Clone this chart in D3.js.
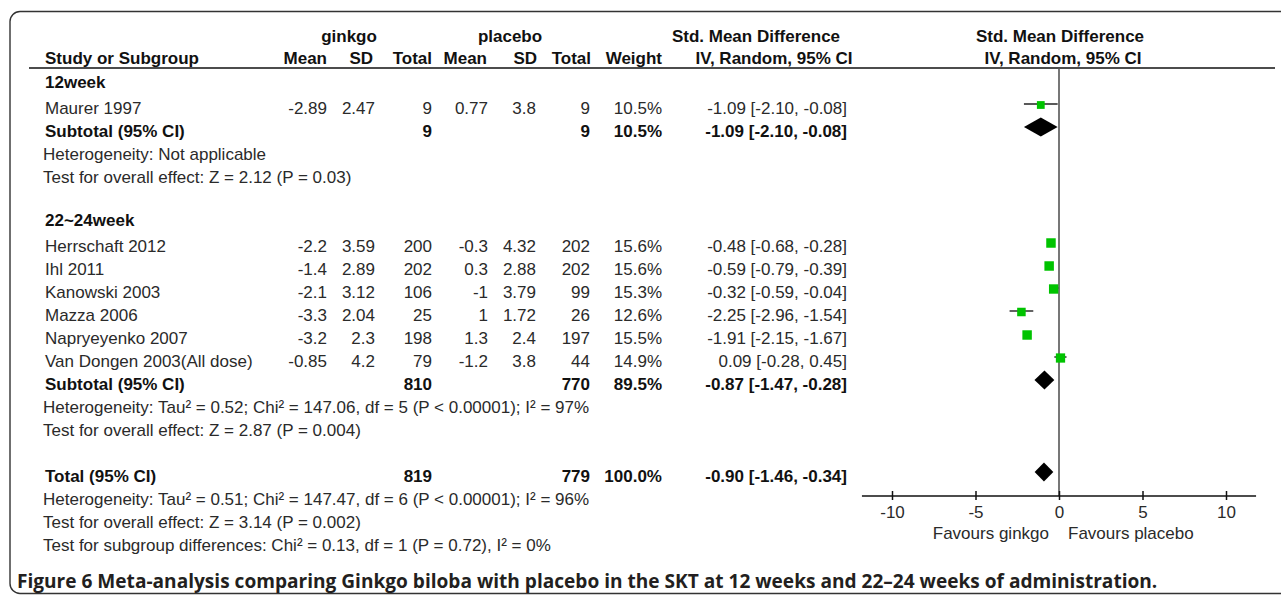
<!DOCTYPE html>
<html>
<head>
<meta charset="utf-8">
<script src="https://cdn.jsdelivr.net/npm/d3@7"></script>
<style>
  body { margin: 0; background: #fff; }
  svg { display: block; font-family: "Liberation Sans", Arial, sans-serif; }
</style>
</head>
<body>
<div id="chart"></div>
<script>
// study level data
const studyNames = ["Maurer 1997", "Herrschaft 2012", "Ihl 2011", "Kanowski 2003", "Mazza 2006", "Napryeyenko 2007", "Van Dongen 2003(All dose)"];
const studyGroup = [0, 1, 1, 1, 1, 1, 1];
const ginkgoMean = [-2.89, -2.2, -1.4, -2.1, -3.3, -3.2, -0.85];
const ginkgoSD = [2.47, 3.59, 2.89, 3.12, 2.04, 2.3, 4.2];
const ginkgoN = [9, 200, 202, 106, 25, 198, 79];
const placeboMean = [0.77, -0.3, 0.3, -1, 1, 1.3, -1.2];
const placeboSD = [3.8, 4.32, 2.88, 3.79, 1.72, 2.4, 3.8];
const placeboN = [9, 202, 202, 99, 26, 197, 44];
const weight = [10.5, 15.6, 15.6, 15.3, 12.6, 15.5, 14.9];
const smd = [-1.09, -0.48, -0.59, -0.32, -2.25, -1.91, 0.09];
const ciLow = [-2.10, -0.68, -0.79, -0.59, -2.96, -2.15, -0.28];
const ciHigh = [-0.08, -0.28, -0.39, -0.04, -1.54, -1.67, 0.45];

// subgroups
const subgroupNames = ["12week", "22~24week"];
const subgroupGinkgoN = [9, 810];
const subgroupPlaceboN = [9, 770];
const subgroupWeight = [10.5, 89.5];
const subgroupSmd = [-1.09, -0.87];
const subgroupLow = [-2.10, -1.47];
const subgroupHigh = [-0.08, -0.28];
const subgroupHet = ["Heterogeneity: Not applicable", "Heterogeneity: Tau² = 0.52; Chi² = 147.06, df = 5 (P < 0.00001); I² = 97%"];
const subgroupTest = ["Test for overall effect: Z = 2.12 (P = 0.03)", "Test for overall effect: Z = 2.87 (P = 0.004)"];

// overall
const totalGinkgoN = 819;
const totalPlaceboN = 779;
const totalWeight = 100.0;
const totalSmd = -0.90;
const totalLow = -1.46;
const totalHigh = -0.34;
const totalNotes = [
    "Heterogeneity: Tau² = 0.51; Chi² = 147.47, df = 6 (P < 0.00001); I² = 96%",
    "Test for overall effect: Z = 3.14 (P = 0.002)",
    "Test for subgroup differences: Chi² = 0.13, df = 1 (P = 0.72), I² = 0%"
];

const xTicks = [-10, -5, 0, 5, 10];
const favourLabels = ["Favours ginkgo", "Favours placebo"];
const caption = "Figure 6 Meta-analysis comparing Ginkgo biloba with placebo in the SKT at 12 weeks and 22–24 weeks of administration.";

// plain hyphen for negatives, like RevMan prints them
const locale = d3.formatLocale({ decimal: '.', thousands: ',', grouping: [3], currency: ['', ''], minus: '-' });

class ForestPlot {

    constructor(opts) {
        this.element = opts.element;
        this.width = 1281;
        this.height = 599;
        this.cols = { gMean: 327, gSD: 375, gN: 432, pMean: 488, pSD: 536, pN: 590, weight: 662, ci: 847 };
        this.draw();
    }

    draw() {
        this.element.innerHTML = '';
        this.svg = d3.select(this.element).append('svg')
            .attr('width', this.width)
            .attr('height', this.height);

        this.createScales();
        this.buildRows();
        this.addFrame();
        this.addHeader();
        this.addTable();
        this.addPlot();
        this.addAxis();
        this.addCaption();
    }

    createScales() {
        this.xScale = d3.scaleLinear().domain([-10, 10]).range([892, 1226]);
        // one step per table line
        this.yScale = d3.scaleLinear().domain([0, 20]).range([82, 542]);
        this.boxScale = d3.scaleSqrt().domain([0, 100]).range([0, 24]);
    }

    buildRows() {
        const rows = [];
        let line = 0;
        subgroupNames.forEach((name, g) => {
            rows.push({ type: 'heading', line: line++, label: name });
            studyNames.forEach((s, i) => {
                if (studyGroup[i] !== g) return;
                rows.push({
                    type: 'study', line: line++, label: s,
                    cells: [ginkgoMean[i], ginkgoSD[i], ginkgoN[i], placeboMean[i], placeboSD[i], placeboN[i]],
                    weight: weight[i], est: smd[i], lo: ciLow[i], hi: ciHigh[i]
                });
            });
            rows.push({
                type: 'subtotal', line: line++, label: 'Subtotal (95% CI)',
                gN: subgroupGinkgoN[g], pN: subgroupPlaceboN[g],
                weight: subgroupWeight[g], est: subgroupSmd[g], lo: subgroupLow[g], hi: subgroupHigh[g]
            });
            rows.push({ type: 'note', line: line++, label: subgroupHet[g] });
            rows.push({ type: 'note', line: line++, label: subgroupTest[g] });
            line++;
        });
        rows.push({
            type: 'subtotal', line: line++, label: 'Total (95% CI)',
            gN: totalGinkgoN, pN: totalPlaceboN,
            weight: totalWeight, est: totalSmd, lo: totalLow, hi: totalHigh
        });
        totalNotes.forEach(n => rows.push({ type: 'note', line: line++, label: n }));
        this.rows = rows;
    }

    addFrame() {
        this.svg.append('rect')
            .attr('x', 10).attr('y', 11.5)
            .attr('width', 1300).attr('height', 582)
            .attr('rx', 10)
            .attr('fill', 'none')
            .attr('stroke', '#333')
            .attr('stroke-width', 1.4);
    }

    addHeader() {
        const h = this.svg.append('g')
            .attr('font-weight', 'bold')
            .attr('font-size', 17)
            .attr('fill', '#111');

        const top = [
            { t: 'ginkgo', x: 349, a: 'middle' },
            { t: 'placebo', x: 510, a: 'middle' },
            { t: 'Std. Mean Difference', x: 756, a: 'middle' },
            { t: 'Std. Mean Difference', x: 1060, a: 'middle' }
        ];
        const sub = [
            { t: 'Study or Subgroup', x: 45, a: 'start' },
            { t: 'Mean', x: 327, a: 'end' },
            { t: 'SD', x: 373, a: 'end' },
            { t: 'Total', x: 432, a: 'end' },
            { t: 'Mean', x: 487, a: 'end' },
            { t: 'SD', x: 537, a: 'end' },
            { t: 'Total', x: 591, a: 'end' },
            { t: 'Weight', x: 662, a: 'end' },
            { t: 'IV, Random, 95% CI', x: 774, a: 'middle' },
            { t: 'IV, Random, 95% CI', x: 1063, a: 'middle' }
        ];

        h.selectAll('.top').data(top).enter().append('text')
            .attr('x', d => d.x).attr('y', 42)
            .attr('text-anchor', d => d.a)
            .text(d => d.t);

        h.selectAll('.sub').data(sub).enter().append('text')
            .attr('x', d => d.x).attr('y', 64)
            .attr('text-anchor', d => d.a)
            .text(d => d.t);

        this.svg.append('line')
            .attr('x1', 29).attr('x2', 1275)
            .attr('y1', 68).attr('y2', 68)
            .attr('stroke', '#111')
            .attr('stroke-width', 1.5);
    }

    addTable() {
        const fmt2 = locale.format('.2f');
        const ciText = d => `${fmt2(d.est)} [${fmt2(d.lo)}, ${fmt2(d.hi)}]`;
        const pct = d => locale.format('.1f')(d) + '%';
        const c = this.cols;
        const colX = [c.gMean, c.gSD, c.gN, c.pMean, c.pSD, c.pN];

        const t = this.svg.append('g').attr('font-size', 17);

        this.rows.forEach(r => {
            const y = this.yScale(r.line);
            if (r.type === 'heading') {
                t.append('text').attr('x', 45).attr('y', y + 6)
                    .attr('font-weight', 'bold').attr('fill', '#111').text(r.label);
            } else if (r.type === 'note') {
                t.append('text').attr('x', 43).attr('y', y + 9)
                    .attr('fill', '#2a2a2a').text(r.label);
            } else if (r.type === 'study') {
                const g = t.append('g').attr('fill', '#2a2a2a');
                g.append('text').attr('x', 45).attr('y', y + 9).text(r.label);
                r.cells.forEach((v, k) => {
                    g.append('text').attr('x', colX[k]).attr('y', y + 9)
                        .attr('text-anchor', 'end').text(String(v));
                });
                g.append('text').attr('x', c.weight).attr('y', y + 9)
                    .attr('text-anchor', 'end').text(pct(r.weight));
                g.append('text').attr('x', c.ci).attr('y', y + 9)
                    .attr('text-anchor', 'end').text(ciText(r));
            } else {
                const g = t.append('g').attr('fill', '#111').attr('font-weight', 'bold');
                g.append('text').attr('x', 45).attr('y', y + 9).text(r.label);
                g.append('text').attr('x', c.gN).attr('y', y + 9).attr('text-anchor', 'end').text(r.gN);
                g.append('text').attr('x', c.pN).attr('y', y + 9).attr('text-anchor', 'end').text(r.pN);
                g.append('text').attr('x', c.weight).attr('y', y + 9).attr('text-anchor', 'end').text(pct(r.weight));
                g.append('text').attr('x', c.ci).attr('y', y + 9).attr('text-anchor', 'end').text(ciText(r));
            }
        });
    }

    addPlot() {
        const x = this.xScale, y = this.yScale;
        this.plot = this.svg.append('g');

        // line of no effect
        this.plot.append('line')
            .attr('x1', x(0)).attr('x2', x(0))
            .attr('y1', 68).attr('y2', this.axisY())
            .attr('stroke', '#555')
            .attr('stroke-width', 1.6);

        const studies = this.rows.filter(r => r.type === 'study');
        const pooled = this.rows.filter(r => r.type === 'subtotal');

        this.plot.selectAll('.ci').data(studies).enter().append('line')
            .attr('x1', d => x(d.lo)).attr('x2', d => x(d.hi))
            .attr('y1', d => y(d.line) - 1).attr('y2', d => y(d.line) - 1)
            .attr('stroke', '#222')
            .attr('stroke-width', 1.4);

        this.plot.selectAll('.box').data(studies).enter().append('rect')
            .attr('x', d => x(d.est) - this.boxScale(d.weight) / 2)
            .attr('y', d => y(d.line) - this.boxScale(d.weight) / 2)
            .attr('width', d => this.boxScale(d.weight))
            .attr('height', d => this.boxScale(d.weight))
            .attr('fill', '#00c300');

        const half = 9.5;
        this.plot.selectAll('.diamond').data(pooled).enter().append('path')
            .attr('d', d => {
                const cy = y(d.line) - 1;
                return `M${x(d.lo)},${cy}L${x(d.est)},${cy - half}L${x(d.hi)},${cy}L${x(d.est)},${cy + half}Z`;
            })
            .attr('fill', '#000');
    }

    axisY() {
        return this.yScale(18);
    }

    addAxis() {
        const ay = this.axisY();
        const axis = d3.axisBottom(this.xScale)
            .tickValues(xTicks)
            .tickSize(4)
            .tickPadding(6)
            .tickFormat(locale.format('d'));

        const g = this.svg.append('g')
            .attr('transform', `translate(0,${ay})`)
            .call(axis);

        g.select('.domain').remove();
        g.append('line')
            .attr('x1', this.xScale(-11.8)).attr('x2', this.xScale(11.8))
            .attr('stroke', '#111').attr('stroke-width', 1.5);
        g.selectAll('.tick line')
            .attr('y1', -5).attr('y2', 4)
            .attr('stroke', '#111').attr('stroke-width', 1.5);
        g.selectAll('.tick text')
            .attr('font-size', 17)
            .attr('font-family', '"Liberation Sans", Arial, sans-serif')
            .attr('fill', '#2a2a2a');

        this.svg.append('text')
            .attr('x', this.xScale(0) - 10).attr('y', ay + 43)
            .attr('text-anchor', 'end')
            .attr('font-size', 17).attr('fill', '#2a2a2a')
            .text(favourLabels[0]);
        this.svg.append('text')
            .attr('x', this.xScale(0) + 9).attr('y', ay + 43)
            .attr('text-anchor', 'start')
            .attr('font-size', 17).attr('fill', '#2a2a2a')
            .text(favourLabels[1]);
    }

    addCaption() {
        const t = this.svg.append('text')
            .attr('x', 17).attr('y', 588)
            .attr('font-family', '"Open Sans", "Noto Sans", sans-serif')
            .attr('font-weight', 'bold')
            .attr('font-size', 18)
            .attr('fill', '#231f20')
            .text(caption);
        // fit to the width used in the figure
        const w = t.node().getComputedTextLength();
        t.attr('font-size', 18 * 1141 / w);
    }
}

new ForestPlot({ element: document.getElementById('chart') });
</script>
</body>
</html>
